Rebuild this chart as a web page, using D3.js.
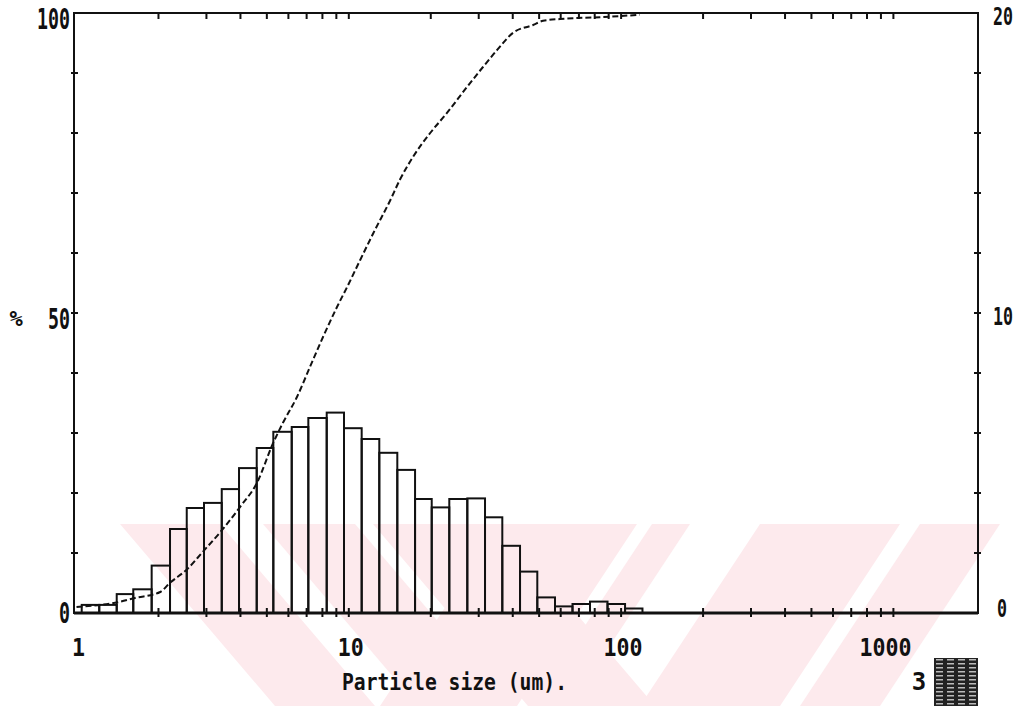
<!DOCTYPE html>
<html>
<head>
<meta charset="utf-8">
<script src="https://cdn.jsdelivr.net/npm/d3@7"></script>
<style>
  body { margin: 0; background: #fff; }
  text { font-family: "DejaVu Sans Mono", "Liberation Mono", monospace; font-weight: bold; fill: #111; }
</style>
</head>
<body>
<svg id="chart" width="1024" height="706"></svg>
<script>
// size bins (um), lower/upper edges
var binEdges = [1.045, 1.212, 1.405, 1.616, 1.888, 2.205, 2.540, 2.939, 3.415, 3.952,
    4.590, 5.282, 6.171, 7.101, 8.296, 9.602, 11.15, 12.94, 15.07, 17.51,
    20.16, 23.39, 27.24, 31.64, 36.62, 42.54, 49.23, 57.18, 66.30, 76.88,
    89.16, 103.4, 119.8];
// volume % in each bin (right axis)
var binValues = [0.27, 0.27, 0.63, 0.79, 1.58, 2.8, 3.5, 3.67, 4.13, 4.83,
    5.5, 6.04, 6.2, 6.5, 6.68, 6.16, 5.8, 5.34, 4.77, 3.8,
    3.52, 3.8, 3.82, 3.19, 2.24, 1.38, 0.52, 0.22, 0.3, 0.38,
    0.3, 0.15];
// cumulative undersize curve (left axis)
var cumSizes = [1.0, 1.42, 1.64, 2.03, 2.2, 2.55, 2.91, 3.42, 3.99, 4.6,
    5.27, 5.73, 6.45, 7.2, 8.04, 9.05, 9.85, 11.0, 12.3, 14.2,
    15.4, 17.2, 19.9, 22.9, 27.2, 31.1, 35.0, 40.1, 47.5, 51.7,
    59.7, 83.7, 117];
var cumPercent = [1.0, 1.8, 2.5, 3.5, 5.0, 7.3, 10.2, 13.8, 17.7, 21.7,
    28.3, 31.7, 36.0, 41.0, 46.0, 51.0, 54.3, 58.8, 63.3, 68.8,
    72.2, 76.0, 80.0, 83.3, 87.7, 91.0, 93.8, 96.7, 98.0, 98.7,
    99.0, 99.3, 99.7];

var xMinorTicks = [2, 3, 4, 5, 6, 7, 8, 9, 10, 20, 30, 40, 50, 60, 70, 80, 90, 100,
    200, 300, 400, 500, 600, 700, 800, 900, 1000];
var xLabels = [1, 10, 100, 1000];
var leftTicks = [10, 20, 30, 40, 50, 60, 70, 80, 90];
var leftLabels = [0, 50, 100];
var rightTicks = [2, 4, 6, 8, 10, 12, 14, 16, 18];
var rightLabels = [0, 10, 20];

var svg = d3.select("#chart");

var x = d3.scaleLog().domain([0.979, 2045]).range([74, 978]);
var yL = d3.scaleLinear().domain([0, 100]).range([613, 13]);
var yR = d3.scaleLinear().domain([0, 20]).range([613, 13]);

// faint pink watermark left on the scan
var wm = svg.append("g").attr("fill", "#fdeaed");
var bands = [
    [[120, 524], [220, 524], [375, 706], [275, 706]],
    [[263, 524], [355, 524], [510, 706], [418, 706]],
    [[373, 524], [500, 524], [655, 706], [528, 706]],
    [[500, 524], [637, 524], [517, 706], [380, 706]],
    [[652, 524], [690, 524], [570, 706], [532, 706]],
    [[760, 524], [900, 524], [780, 706], [640, 706]],
    [[920, 524], [1000, 524], [880, 706], [800, 706]]
];
wm.selectAll("polygon")
    .data(bands)
    .enter().append("polygon")
    .attr("points", function(d) { return d.map(function(p) { return p.join(","); }).join(" "); });

// histogram
var bins = binValues.map(function(v, i) {
    return { x0: binEdges[i], x1: binEdges[i + 1], v: v };
});
svg.append("g")
    .attr("class", "bars")
    .selectAll("rect")
    .data(bins)
    .enter().append("rect")
    .attr("x", function(d) { return x(d.x0); })
    .attr("y", function(d) { return yR(d.v); })
    .attr("width", function(d) { return x(d.x1) - x(d.x0); })
    .attr("height", function(d) { return yR(0) - yR(d.v); })
    .attr("fill", "none")
    .attr("stroke", "#111")
    .attr("stroke-width", 2);

// cumulative curve
var line = d3.line()
    .x(function(d) { return x(d[0]); })
    .y(function(d) { return yL(d[1]); })
    .curve(d3.curveMonotoneX);

svg.append("path")
    .datum(cumSizes.map(function(s, i) { return [s, cumPercent[i]]; }))
    .attr("d", line)
    .attr("fill", "none")
    .attr("stroke", "#111")
    .attr("stroke-width", 2)
    .attr("stroke-dasharray", "6,3");

// frame
svg.append("rect")
    .attr("x", 74).attr("y", 13)
    .attr("width", 978 - 74).attr("height", 600)
    .attr("fill", "none")
    .attr("stroke", "#111")
    .attr("stroke-width", 2);
svg.append("line")
    .attr("x1", 74).attr("x2", 978)
    .attr("y1", 613).attr("y2", 613)
    .attr("stroke", "#111")
    .attr("stroke-width", 3);

// x ticks, top (down) and bottom (crossing)
svg.append("g").selectAll("line")
    .data(xMinorTicks)
    .enter().append("line")
    .attr("x1", function(d) { return x(d); })
    .attr("x2", function(d) { return x(d); })
    .attr("y1", 13).attr("y2", 19)
    .attr("stroke", "#111").attr("stroke-width", 2);
svg.append("g").selectAll("line")
    .data(xMinorTicks)
    .enter().append("line")
    .attr("x1", function(d) { return x(d); })
    .attr("x2", function(d) { return x(d); })
    .attr("y1", 608).attr("y2", 617)
    .attr("stroke", "#111").attr("stroke-width", 2);

// y ticks
svg.append("g").selectAll("line")
    .data(leftTicks)
    .enter().append("line")
    .attr("x1", 71).attr("x2", 78)
    .attr("y1", function(d) { return yL(d); })
    .attr("y2", function(d) { return yL(d); })
    .attr("stroke", "#111").attr("stroke-width", 2);
svg.append("g").selectAll("line")
    .data(rightTicks)
    .enter().append("line")
    .attr("x1", 974).attr("x2", 981)
    .attr("y1", function(d) { return yR(d); })
    .attr("y2", function(d) { return yR(d); })
    .attr("stroke", "#111").attr("stroke-width", 2);

// labels
function squeeze(sel, perChar) {
    sel.attr("textLength", function(d) { return String(d).length * perChar; })
        .attr("lengthAdjust", "spacingAndGlyphs");
}

svg.append("g").selectAll("text")
    .data(xLabels)
    .enter().append("text")
    .attr("x", function(d) { return x(d) + (d === 1000 ? -8 : 2); })
    .attr("y", 656)
    .attr("text-anchor", "middle")
    .attr("font-size", 24)
    .text(function(d) { return d; })
    .call(squeeze, 13);

svg.append("g").selectAll("text")
    .data(leftLabels)
    .enter().append("text")
    .attr("x", 70)
    .attr("y", function(d) { return yL(d) + (d === 0 ? 10 : 16); })
    .attr("text-anchor", "end")
    .attr("font-size", 29)
    .text(function(d) { return d; })
    .call(squeeze, 11);

svg.append("g").selectAll("text")
    .data(rightLabels)
    .enter().append("text")
    .attr("x", function(d) { return d === 0 ? 997 : 993; })
    .attr("y", function(d) { return yR(d) + (d === 0 ? 4 : 12); })
    .attr("text-anchor", "start")
    .attr("font-size", 25)
    .text(function(d) { return d; })
    .call(squeeze, 10);

svg.append("text")
    .attr("x", 16).attr("y", 326)
    .attr("text-anchor", "middle")
    .attr("font-size", 22)
    .attr("font-weight", "normal")
    .text("%");

svg.append("text")
    .attr("x", 342).attr("y", 690)
    .attr("font-size", 23)
    .attr("textLength", 225)
    .attr("lengthAdjust", "spacingAndGlyphs")
    .text("Particle size (um).");

svg.append("text")
    .attr("x", 919).attr("y", 690)
    .attr("text-anchor", "middle")
    .attr("font-size", 24)
    .attr("font-weight", "normal")
    .attr("font-family", "Liberation Sans")
    .text("3");

// stamp block at bottom right
var stamp = svg.append("g");
stamp.append("rect")
    .attr("x", 934).attr("y", 658)
    .attr("width", 44).attr("height", 48)
    .attr("fill", "#222");
var cols = d3.range(4), rows = d3.range(12);
rows.forEach(function(r) {
    stamp.selectAll(null)
        .data(cols)
        .enter().append("rect")
        .attr("x", function(c) { return 936 + c * 11; })
        .attr("y", 659 + r * 4)
        .attr("width", 7).attr("height", 1.5)
        .attr("fill", "#bbb");
});
</script>
</body>
</html>
